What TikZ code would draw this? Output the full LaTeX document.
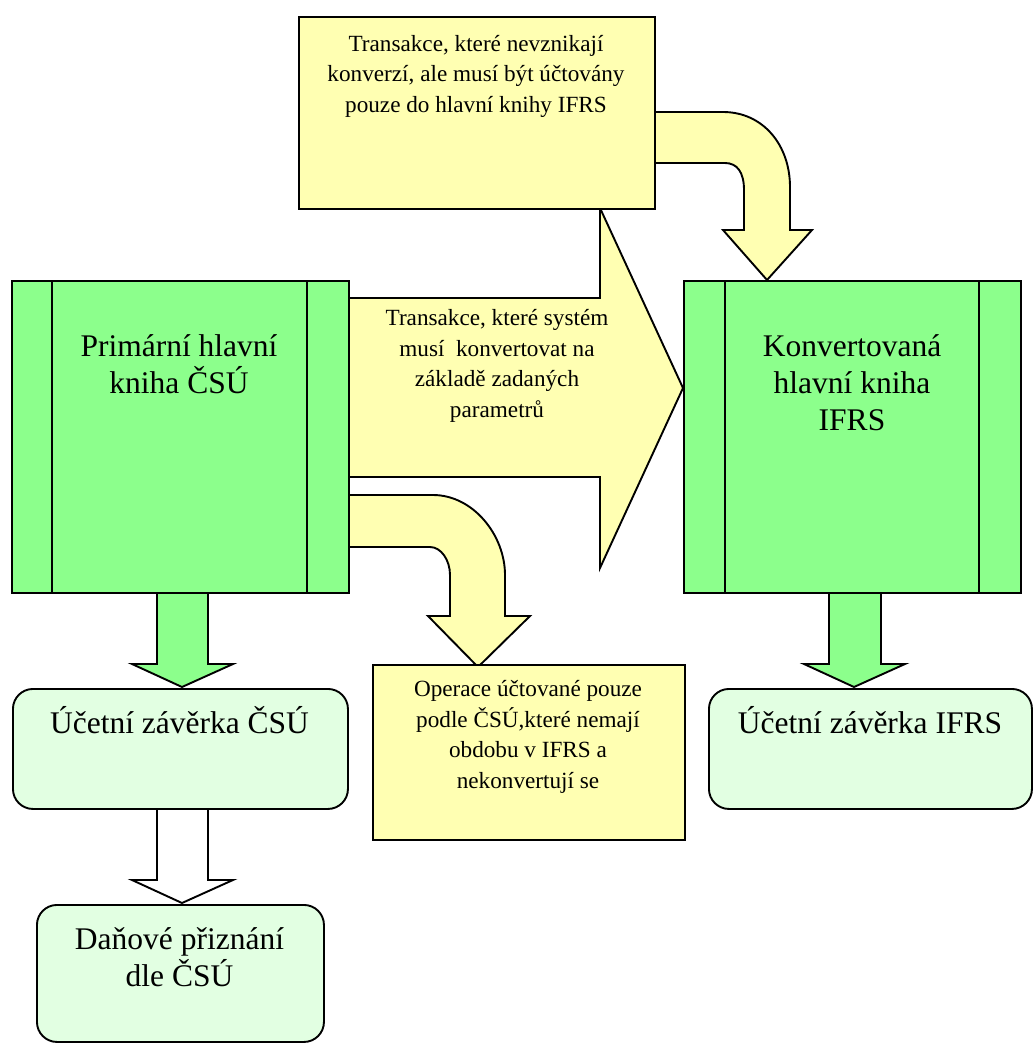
\documentclass[tikz,border=0pt]{standalone}
\usepackage{fontspec}
\setmainfont{Liberation Serif}
\definecolor{ledgergreen}{RGB}{140,255,140}
\definecolor{palegreen}{RGB}{226,255,226}
\definecolor{paleyellow}{RGB}{255,255,178}
\begin{document}
\begin{tikzpicture}[x=1pt,y=-1pt,line width=1.9pt,line join=miter,
  bigtxt/.style={font=\fontsize{31.5}{37}\selectfont,align=center,anchor=base,inner sep=0pt},
  smalltxt/.style={font=\fontsize{23.2}{30.5}\selectfont,align=center,anchor=base,inner sep=0pt},
  ledger/.style={draw,fill=ledgergreen,inner sep=0pt,anchor=north west},
  notebox/.style={draw,fill=paleyellow,inner sep=0pt,anchor=north west},
  reportbox/.style={draw,fill=palegreen,rounded corners=20pt,inner sep=0pt,anchor=north west},
  yarrow/.style={draw,fill=paleyellow},
  garrow/.style={draw,fill=ledgergreen},
  warrow/.style={draw,fill=white}]
\useasboundingbox (0,0) rectangle (1033,1044);

% ---- block arrows (drawn below the boxes) ----
% big arrow: primary ledger -> converted ledger
\path[yarrow] (340,298) -- (600,298) -- (600,208) -- (683,388) -- (600,568) -- (600,477) -- (340,477) -- cycle;
% curved arrow: top note -> converted ledger
\path[yarrow] (650,112) -- (723,112) .. controls (763,112) and (790,145) .. (790,187)
  -- (790,230) -- (812,230) -- (767,280) -- (723,230) -- (744,230) -- (744,190)
  .. controls (744,172) and (737,163) .. (725,163) -- (650,163) -- cycle;
% curved arrow: primary ledger -> bottom note
\path[yarrow] (340,495) -- (433,495) .. controls (473,495) and (505,535) .. (505,575)
  -- (505,616) -- (530,616) -- (478,667) -- (428,616) -- (450,616) -- (450,575)
  .. controls (450,560) and (441,547) .. (430,547) -- (340,547) -- cycle;
% green arrows down
\path[garrow] (157,585) -- (208,585) -- (208,664) -- (233,664) -- (182,687) -- (132,664) -- (157,664) -- cycle;
\path[garrow] (829,585) -- (881,585) -- (881,664) -- (905,664) -- (854,687) -- (804,664) -- (829,664) -- cycle;
% white arrow down
\path[warrow] (157,800) -- (208,800) -- (208,880) -- (233,880) -- (182,903) -- (132,880) -- (157,880) -- cycle;

% ---- boxes ----
\node[ledger,minimum width=337pt,minimum height=312pt] (prim) at (11,280) {};
\draw (52,280) -- (52,592) (307,280) -- (307,592);
\node[ledger,minimum width=337pt,minimum height=312pt] (conv) at (683,280) {};
\draw (725,280) -- (725,592) (979,280) -- (979,592);

\node[notebox,minimum width=356pt,minimum height=192pt] (topnote) at (298,16) {};
\node[notebox,minimum width=312pt,minimum height=175pt] (botnote) at (372,664) {};

\node[reportbox,minimum width=335pt,minimum height=120pt] (zavcsu) at (12,688) {};
\node[reportbox,minimum width=323pt,minimum height=120pt] (zavifrs) at (708,688) {};
\node[reportbox,minimum width=287pt,minimum height=137pt] (danove) at (36,904) {};

% ---- texts (anchored at the baseline of the last line) ----
\node[bigtxt] (primt) at (179,393) {Primární hlavní\\kniha ČSÚ};
\node[bigtxt] (convt) at (852,430) {Konvertovaná\\hlavní kniha\\IFRS};
\node[smalltxt] (topt) at (476,112) {Transakce, které nevznikají\\konverzí, ale musí být účtovány\\pouze do hlavní knihy IFRS};
\node[smalltxt] (midt) at (497,417) {Transakce, které systém\\musí\ \ konvertovat na\\základě zadaných\\parametrů};
\node[smalltxt] (bott) at (528,788) {Operace účtované pouze\\podle ČSÚ,které nemají\\obdobu v IFRS a\\nekonvertují se};
\node[bigtxt] (zavcsut) at (179.5,733) {Účetní závěrka ČSÚ};
\node[bigtxt] (zavifrst) at (870,733) {Účetní závěrka IFRS};
\node[bigtxt] (danovet) at (179.5,986) {Daňové přiznání\\dle ČSÚ};
\end{tikzpicture}
\end{document}
